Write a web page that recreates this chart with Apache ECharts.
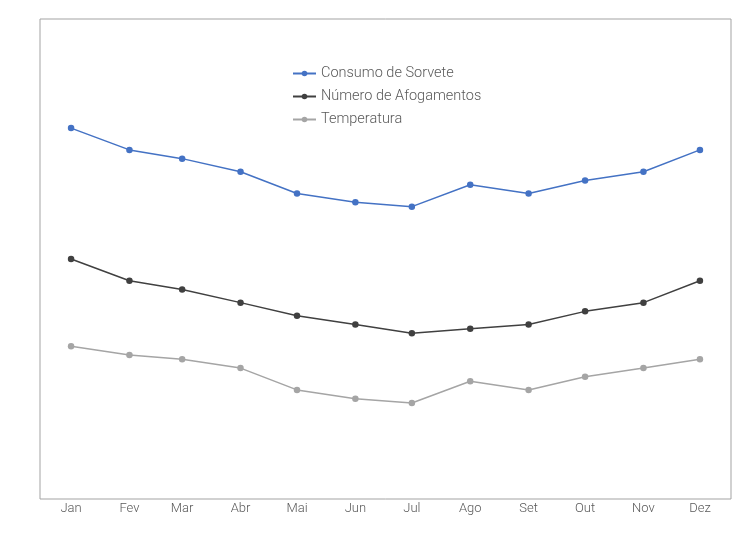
<!DOCTYPE html>
<html>
<head>
<meta charset="utf-8">
<script src="https://cdn.jsdelivr.net/npm/echarts@6/dist/echarts.min.js"></script>
<style>
  html, body { margin: 0; padding: 0; background: #fff; }
  #chart { width: 750px; height: 552px; }
</style>
</head>
<body>
<div id="chart"></div>
<script>
// meses e dia do ano em que cada mês começa (eixo de datas)
var months = ['Jan', 'Fev', 'Mar', 'Abr', 'Mai', 'Jun', 'Jul', 'Ago', 'Set', 'Out', 'Nov', 'Dez'];
var monthDays = [0, 31, 59, 90, 120, 151, 181, 212, 243, 273, 304, 334];

var sorvete = [85, 80, 78, 75, 70, 68, 67, 72, 70, 73, 75, 80];
var afogamentos = [55, 50, 48, 45, 42, 40, 38, 39, 40, 43, 45, 50];
var temperatura = [35, 33, 32, 30, 25, 23, 22, 27, 25, 28, 30, 32];

var seriesNames = ['Consumo de Sorvete', 'Número de Afogamentos', 'Temperatura'];
var colors = ['#4472C4', '#404040', '#A5A5A5'];

function pairs(values) {
    return values.map(function (v, i) { return [monthDays[i], v]; });
}

var chart = echarts.init(document.getElementById('chart'));

var option = {
    color: colors,
    textStyle: { fontFamily: 'Roboto', fontWeight: 300 },
    grid: {
        show: true,
        left: 40,
        top: 19,
        right: 19,
        bottom: 53,
        borderColor: '#a3a3a3',
        borderWidth: 1
    },
    legend: {
        orient: 'vertical',
        left: 287,
        top: 61,
        itemGap: 8,
        itemWidth: 23,
        itemHeight: 7,
        textStyle: { color: '#595959', fontSize: 14.5, fontFamily: 'Roboto', fontWeight: 300 },
        data: seriesNames
    },
    xAxis: {
        type: 'value',
        min: -16.5,
        max: 350.5,
        axisLine: { show: false },
        axisTick: { show: false },
        splitLine: { show: false },
        axisLabel: {
            customValues: monthDays,
            color: '#595959',
            fontSize: 13,
            margin: 3,
            fontFamily: 'Roboto',
            fontWeight: 300,
            formatter: function (v) {
                var i = monthDays.indexOf(v);
                return i >= 0 ? months[i] : '';
            }
        }
    },
    yAxis: {
        type: 'value',
        min: 0,
        max: 110,
        show: false,
        splitLine: { show: false }
    },
    series: [
        {
            name: seriesNames[0],
            type: 'line',
            symbol: 'circle',
            symbolSize: 6.5,
            lineStyle: { width: 1.5 },
            data: pairs(sorvete)
        },
        {
            name: seriesNames[1],
            type: 'line',
            symbol: 'circle',
            symbolSize: 6.5,
            lineStyle: { width: 1.5 },
            data: pairs(afogamentos)
        },
        {
            name: seriesNames[2],
            type: 'line',
            symbol: 'circle',
            symbolSize: 6.5,
            lineStyle: { width: 1.5 },
            data: pairs(temperatura)
        }
    ]
};

chart.setOption(option);
</script>
</body>
</html>
